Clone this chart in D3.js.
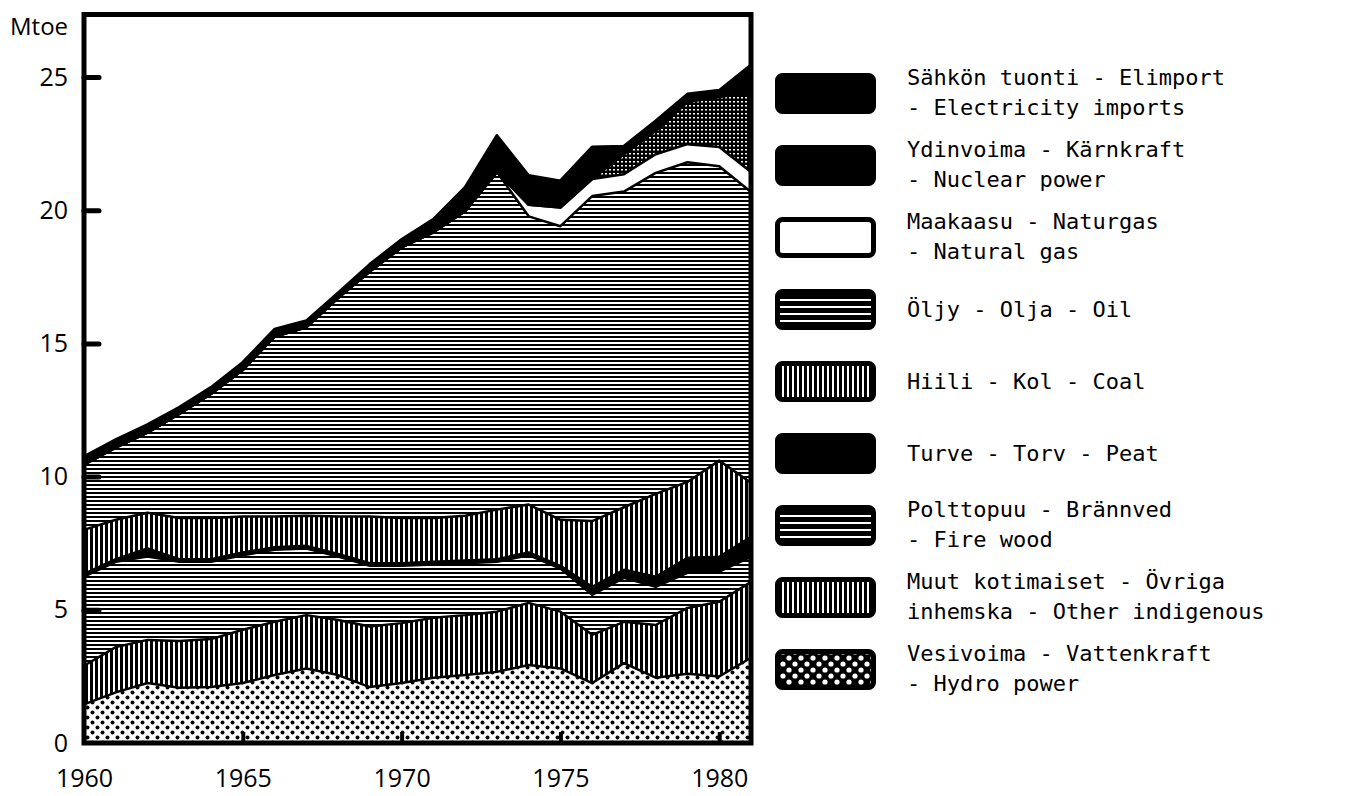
<!DOCTYPE html>
<html>
<head>
<meta charset="utf-8">
<script src="https://cdn.jsdelivr.net/npm/d3@7"></script>
<style>
  body { margin: 0; background: #fff; }
  svg { display: block; }
  .axis text { font-family: "Open Sans", sans-serif; font-size: 25px; fill: #000; }
  .legend text { font-family: "DejaVu Sans Mono", monospace; font-size: 22px; fill: #000; }
</style>
</head>
<body>
<div id="chart"></div>
<script>
// ----- Data (Mtoe) -----
const years = [1960, 1961, 1962, 1963, 1964, 1965, 1966, 1967, 1968, 1969, 1970,
               1971, 1972, 1973, 1974, 1975, 1976, 1977, 1978, 1979, 1980, 1981];

const hydro    = [1.45, 1.9, 2.25, 2.07, 2.1, 2.25, 2.55, 2.8, 2.55, 2.1, 2.25,
                  2.45, 2.55, 2.67, 2.93, 2.8, 2.25, 3.0, 2.45, 2.6, 2.5, 3.2];
const other    = [1.45, 1.7, 1.62, 1.76, 1.8, 2.0, 2.0, 2.0, 2.07, 2.27, 2.25,
                  2.25, 2.25, 2.26, 2.33, 2.13, 1.81, 1.55, 1.98, 2.47, 2.8, 2.85];
const firewood = [3.35, 3.2, 3.13, 2.97, 2.9, 2.8, 2.7, 2.5, 2.38, 2.28, 2.15,
                  2.0, 1.95, 1.87, 1.79, 1.62, 1.5, 1.65, 1.43, 1.32, 1.13, 0.94];
const peat     = [0.1, 0.1, 0.3, 0.1, 0.1, 0.1, 0.1, 0.1, 0.1, 0.1, 0.1,
                  0.1, 0.1, 0.1, 0.1, 0.1, 0.3, 0.3, 0.38, 0.56, 0.56, 0.75];
const coal     = [1.65, 1.48, 1.34, 1.55, 1.55, 1.35, 1.15, 1.13, 1.4, 1.75, 1.7,
                  1.65, 1.68, 1.86, 1.8, 1.73, 2.47, 2.35, 3.11, 2.85, 3.61, 2.03];
const oil      = [2.45, 2.71, 3.01, 3.9, 4.65, 5.5, 6.75, 7.07, 8.2, 9.2, 10.15,
                  10.72, 11.43, 12.67, 10.82, 11.02, 12.2, 11.85, 12.05, 12.0, 11.05, 10.91];
const gas      = [0, 0, 0, 0, 0, 0, 0, 0, 0, 0, 0,
                  0, 0, 0, 0.43, 0.7, 0.64, 0.65, 0.7, 0.68, 0.72, 0.75];
const nuclear  = [0, 0, 0, 0, 0, 0, 0, 0, 0, 0, 0,
                  0, 0, 0, 0, 0, 0, 0.75, 0.87, 1.58, 1.88, 2.97];
const imports  = [0.3, 0.3, 0.3, 0.25, 0.25, 0.29, 0.28, 0.25, 0.2, 0.27, 0.3,
                  0.49, 0.9, 1.37, 1.1, 1.0, 1.2, 0.3, 0.38, 0.3, 0.25, 1.05];

const yTicks = [0, 5, 10, 15, 20, 25];
const xTicks = [1960, 1965, 1970, 1975, 1980];

// stacking order, bottom to top
const series = [
  { key: "hydro",    values: hydro,    fill: "url(#dots)" },
  { key: "other",    values: other,    fill: "url(#vlines)" },
  { key: "firewood", values: firewood, fill: "url(#hlines)" },
  { key: "peat",     values: peat,     fill: "#000" },
  { key: "coal",     values: coal,     fill: "url(#vlines)" },
  { key: "oil",      values: oil,      fill: "url(#hlines)" },
  { key: "gas",      values: gas,      fill: "#fff" },
  { key: "nuclear",  values: nuclear,  fill: "url(#grid)" },
  { key: "imports",  values: imports,  fill: "#000" }
];

// legend, top to bottom
const legendItems = [
  { lines: ["Sähkön tuonti - Elimport", "- Electricity imports"], fill: "#000" },
  { lines: ["Ydinvoima - Kärnkraft", "- Nuclear power"], fill: "#000" },
  { lines: ["Maakaasu - Naturgas", "- Natural gas"], fill: "#fff" },
  { lines: ["Öljy - Olja - Oil"], fill: "url(#hlinesL)" },
  { lines: ["Hiili - Kol - Coal"], fill: "url(#vlinesL)" },
  { lines: ["Turve - Torv - Peat"], fill: "#000" },
  { lines: ["Polttopuu - Brännved", "- Fire wood"], fill: "url(#hlinesL)" },
  { lines: ["Muut kotimaiset - Övriga", "inhemska - Other indigenous"], fill: "url(#vlinesL)" },
  { lines: ["Vesivoima - Vattenkraft", "- Hydro power"], fill: "url(#dotsL)" }
];

// ----- Config -----
const width = 1347, height = 796;
const plotLeft = 84, plotRight = 751, plotBottom = 743, plotTop = 14.5;

const rows = years.map((yr, i) => {
  const r = { year: yr };
  series.forEach(s => r[s.key] = s.values[i]);
  return r;
});

const x = d3.scaleLinear().domain([1960, 1981]).range([plotLeft, plotRight]);
const y = d3.scaleLinear().domain([0, 25]).range([plotBottom, 77]);

const svg = d3.select("#chart").append("svg")
  .attr("width", width)
  .attr("height", height);

// ----- Patterns -----
const defs = svg.append("defs");

function pattern(id, w, h, draw) {
  const p = defs.append("pattern")
    .attr("id", id)
    .attr("patternUnits", "userSpaceOnUse")
    .attr("width", w).attr("height", h);
  draw(p);
}

pattern("hlines", 4, 4, p => {
  p.append("rect").attr("width", 4).attr("height", 4).attr("fill", "#fff");
  p.append("rect").attr("width", 4).attr("height", 2).attr("fill", "#000");
});
pattern("vlines", 5, 5, p => {
  p.append("rect").attr("width", 5).attr("height", 5).attr("fill", "#fff");
  p.append("rect").attr("width", 3).attr("height", 5).attr("fill", "#000");
});
pattern("dots", 10, 10, p => {
  p.append("rect").attr("width", 10).attr("height", 10).attr("fill", "#fff");
  p.append("circle").attr("cx", 2.5).attr("cy", 2.5).attr("r", 2).attr("fill", "#000");
  p.append("circle").attr("cx", 7.5).attr("cy", 7.5).attr("r", 2).attr("fill", "#000");
});
pattern("grid", 4, 4, p => {
  p.append("rect").attr("width", 4).attr("height", 4).attr("fill", "#000");
  p.append("rect").attr("x", 1).attr("y", 1).attr("width", 2).attr("height", 1.5).attr("fill", "#fff");
});
// coarser versions for the legend swatches
pattern("hlinesL", 7, 7, p => {
  p.append("rect").attr("width", 7).attr("height", 7).attr("fill", "#000");
  p.append("rect").attr("y", 3).attr("width", 7).attr("height", 2).attr("fill", "#fff");
});
pattern("vlinesL", 5, 5, p => {
  p.append("rect").attr("width", 5).attr("height", 5).attr("fill", "#000");
  p.append("rect").attr("x", 2).attr("width", 2).attr("height", 5).attr("fill", "#fff");
});
pattern("dotsL", 12, 12, p => {
  p.append("rect").attr("width", 12).attr("height", 12).attr("fill", "#000");
  p.append("circle").attr("cx", 3).attr("cy", 3).attr("r", 2.6).attr("fill", "#fff");
  p.append("circle").attr("cx", 9).attr("cy", 9).attr("r", 2.6).attr("fill", "#fff");
});

// ----- Stacked areas -----
const stack = d3.stack().keys(series.map(s => s.key));
const layers = stack(rows);

const area = d3.area()
  .x(d => x(d.data.year))
  .y0(d => y(d[0]))
  .y1(d => y(d[1]));

const topLine = d3.line()
  .x(d => x(d.data.year))
  .y(d => y(d[1]));

svg.append("g")
  .selectAll("path")
  .data(layers)
  .join("path")
  .attr("d", area)
  .attr("fill", (d, i) => series[i].fill);

svg.append("g")
  .selectAll("path")
  .data(layers)
  .join("path")
  .attr("d", topLine)
  .attr("fill", "none")
  .attr("stroke", "#000")
  .attr("stroke-width", (d, i) => i === layers.length - 1 ? 3 : 2.5)
  .attr("stroke-linejoin", "round");

// ----- Frame -----
svg.append("rect")
  .attr("x", plotLeft).attr("y", plotTop)
  .attr("width", plotRight - plotLeft).attr("height", plotBottom - plotTop)
  .attr("fill", "none")
  .attr("stroke", "#000")
  .attr("stroke-width", 5);

// ----- Axes -----
const yAxis = svg.append("g")
  .attr("class", "axis")
  .attr("transform", `translate(${plotLeft},0)`)
  .call(d3.axisLeft(y).tickValues(yTicks).tickSizeInner(-15).tickSizeOuter(0).tickPadding(16));
yAxis.select(".domain").remove();
yAxis.selectAll(".tick line")
  .attr("stroke-width", 5)
  .attr("stroke-linecap", "round");
yAxis.selectAll(".tick").filter(d => d === 0).select("line").remove();

const xAxis = svg.append("g")
  .attr("class", "axis")
  .attr("transform", `translate(0,${plotBottom})`)
  .call(d3.axisBottom(x).tickValues(xTicks).tickFormat(d3.format("d"))
    .tickSizeInner(-11).tickSizeOuter(0).tickPadding(26));
xAxis.select(".domain").remove();
xAxis.selectAll(".tick line").attr("stroke-width", 4);
xAxis.selectAll(".tick").filter(d => d === 1960).select("line").remove();

svg.append("text")
  .attr("x", 10).attr("y", 35)
  .style("font-family", "'Open Sans', sans-serif")
  .style("font-size", "24px")
  .text("Mtoe");

// ----- Legend -----
const legend = svg.append("g").attr("class", "legend");

const item = legend.selectAll("g")
  .data(legendItems)
  .join("g")
  .attr("transform", (d, i) => `translate(0,${73 + i * 72})`);

item.append("rect")
  .attr("x", 777.5).attr("y", 2.5)
  .attr("width", 96).attr("height", 36)
  .attr("rx", 5)
  .attr("fill", d => d.fill)
  .attr("stroke", "#000")
  .attr("stroke-width", 5);

item.append("text")
  .attr("x", 907)
  .attr("y", d => d.lines.length === 1 ? 28 : 12)
  .selectAll("tspan")
  .data(d => d.lines)
  .join("tspan")
  .attr("x", 907)
  .attr("dy", (d, i) => i === 0 ? 0 : 30)
  .text(d => d);
</script>
</body>
</html>
